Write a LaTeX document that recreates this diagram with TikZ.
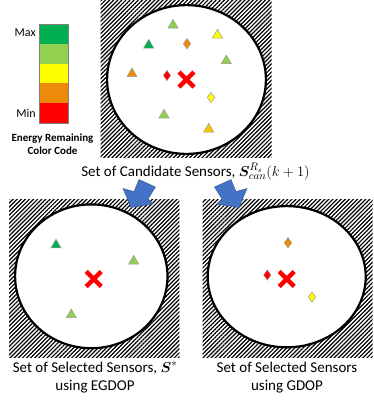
\documentclass[tikz,border=0pt]{standalone}
\usepackage{fontspec}
\setmainfont{Carlito}
\usepackage{bm}
\usetikzlibrary{patterns.meta,shapes.geometric,shapes.misc}

\definecolor{egreen}{HTML}{00B050}
\definecolor{elgreen}{HTML}{92D050}
\definecolor{eyellow}{HTML}{FFFF00}
\definecolor{eorange}{HTML}{EE8A0A}
\definecolor{egold}{HTML}{FFC000}
\definecolor{ered}{HTML}{FF0000}
\definecolor{arrowblue}{HTML}{4472C4}

\begin{document}
\begin{tikzpicture}[x=1pt, y=-1pt, line join=miter,
  tri/.style={regular polygon, regular polygon sides=3, minimum size=11.6pt,
    inner sep=0pt, draw=gray!80, line width=0.5pt},
  dia/.style={diamond, minimum width=7.5pt, minimum height=10.5pt,
    inner sep=0pt, draw=gray!80, line width=0.5pt},
  target/.style={cross out, draw=ered, line width=4.5pt, minimum size=10.5pt, inner sep=0pt},
  zone/.style={pattern={Lines[angle=45, distance=2.9pt, line width=1.2pt]}},
  sensrange/.style={fill=white, draw=black, line width=2.2pt},
  bigarrow/.style={fill=arrowblue, draw=arrowblue!75!black, line width=0.4pt},
  caption/.style={font=\fontsize{15}{18}\selectfont, align=center, inner sep=0pt, anchor=base}]

\useasboundingbox (0,0) rectangle (374,405);

% ----------------- Parameters -----------------
\def\barx{39}      % left edge of the colour bar
\def\bary{24}      % top edge of the colour bar
\def\barw{29}      % width of the colour bar
\def\barh{19.8}    % height of one colour step

% Centres of the three sensing ranges
\coordinate (Ctop) at (186.5,79.5);
\coordinate (Cleft) at (91.3,276.3);
\coordinate (Cright) at (286.7,276.7);

% ----------------- Colour code -----------------
\foreach \c [count=\i] in {egreen,elgreen,eyellow,eorange,ered}
  \fill[\c] (\barx,{\bary+(\i-1)*\barh}) rectangle ++(\barw,\barh);
\draw[gray, line width=0.5pt] (\barx,\bary) rectangle ++(\barw,{5*\barh});

\node[anchor=east, font=\fontsize{12}{14}\selectfont, inner sep=0pt] (max) at (36,33) {Max};
\node[anchor=east, font=\fontsize{12}{14}\selectfont, inner sep=0pt] (min) at (36,113) {Min};
% base of a two-line node is its last line
\node[anchor=base, align=center, inner sep=0pt, font=\bfseries\fontsize{11}{12.5}\selectfont]
  (code) at (52.5,154) {Energy Remaining\\Color Code};

% ----------------- Hatched areas and sensing ranges -----------------
\fill[zone] (100.5,0) rectangle (271.7,157);
\fill[zone] (9,199) rectangle (179.3,357.3);
\fill[zone] (202.7,199) rectangle (372.7,357);

\draw[sensrange] (Ctop) ellipse (79.4 and 74.4);
\draw[sensrange] (Cleft) ellipse (76.2 and 71.9);
\draw[sensrange] (Cright) ellipse (79 and 70.6);

% ----------------- Candidate sensors -----------------
\node[tri, fill=elgreen] (t1) at (173,25.1) {};
\node[tri, fill=eyellow] (t2) at (217.5,35.1) {};
\node[tri, fill=egreen] (t3) at (148.7,45.1) {};
\node[tri, fill=elgreen] (t4) at (226.3,60.8) {};
\node[tri, fill=eorange] (t5) at (132,73.8) {};
\node[tri, fill=elgreen] (t6) at (164,115.1) {};
\node[tri, fill=egold] (t7) at (208.7,129.1) {};
\node[dia, fill=eorange] (d1) at (187,43.7) {};
\node[dia, fill=ered] (d2) at (167,75.5) {};
\node[dia, fill=eyellow] (d3) at (211,97.5) {};
\node[target] (x1) at (Ctop) {};

% ----------------- Selected sensors (EGDOP) -----------------
\node[tri, fill=egreen] (s1) at (56,245) {};
\node[tri, fill=elgreen] (s2) at (133.7,261.1) {};
\node[tri, fill=elgreen] (s3) at (71.3,314.8) {};
\node[target] (x2) at (93.7,279) {};

% ----------------- Selected sensors (GDOP) -----------------
\node[dia, fill=eorange] (g1) at (288,242.7) {};
\node[dia, fill=ered] (g2) at (267.3,275) {};
\node[dia, fill=eyellow] (g3) at (312,297) {};
\node[target] (x3) at (286.7,279) {};

% ----------------- Captions -----------------
\node[caption] (cand) at (195.5,176) {Set of Candidate Sensors, $\bm{S}^{R_s}_{can}(k+1)$};
\node[caption] (egdop) at (95,390) {Set of Selected Sensors, $\bm{S}^{*}$\\using EGDOP};
\node[caption] (gdop) at (287,390) {Set of Selected Sensors\\using GDOP};

% ----------------- Block arrows -----------------
\draw[bigarrow] (155.5,187) -- (148,199) -- (153,204) -- (131,207.5)
  -- (123,188.5) -- (134,191.5) -- (139,179.5) -- cycle;
\draw[bigarrow] (214.5,187) -- (222,199) -- (217,204) -- (239,207.5)
  -- (247,188.5) -- (236,191.5) -- (231,179.5) -- cycle;

\end{tikzpicture}
\end{document}
